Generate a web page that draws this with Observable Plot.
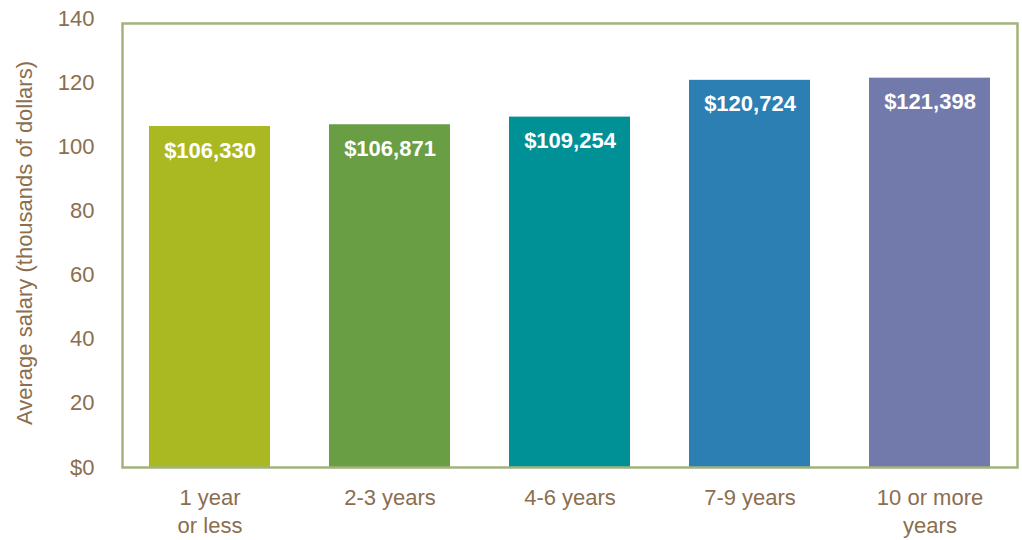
<!DOCTYPE html>
<html>
<head>
<meta charset="utf-8">
<script src="https://cdn.jsdelivr.net/npm/d3@7"></script>
<script src="https://cdn.jsdelivr.net/npm/@observablehq/plot@0.6"></script>
<style>
  html, body { margin: 0; padding: 0; background: #fff; }
  #chart { width: 1022px; height: 540px; }
</style>
</head>
<body>
<div id="chart"></div>
<script>
const categories = ["1 year or less", "2-3 years", "4-6 years", "7-9 years", "10 or more years"];
const tickLabels = ["1 year\nor less", "2-3 years", "4-6 years", "7-9 years", "10 or more\nyears"];
const salaries = [106330, 106871, 109254, 120724, 121398];
const yTicks = [0, 20, 40, 60, 80, 100, 120, 140];
const palette = ["#aab822", "#6a9e44", "#009196", "#2c7fb3", "#7279ab"];

const data = categories.map((c, i) => ({category: c, salary: salaries[i]}));
const textColor = "#8b6e50";
const font = "'Liberation Sans', Arial, Helvetica, sans-serif";
const money = d3.format("$,");

const chart = Plot.plot({
  width: 1022,
  height: 540,
  marginLeft: 122,
  marginRight: 5,
  marginTop: 18,
  marginBottom: 73,
  style: {fontFamily: font, fontSize: "22px", background: "#fff", overflow: "visible"},
  x: {domain: categories, paddingInner: 0.329, paddingOuter: 0.147},
  y: {domain: [0, 140]},
  color: {domain: categories, range: palette},
  marks: [
    Plot.barY(data, {x: "category", y: d => d.salary / 1000, fill: "category"}),
    Plot.text(data, {
      x: "category", y: d => d.salary / 1000, text: d => money(d.salary),
      dy: 24, fill: "white", fontWeight: "bold", fontSize: 22, fontFamily: font
    }),
    Plot.frame({stroke: "#a3b27c", strokeWidth: 2.5, insetTop: 5}),
    Plot.axisY({
      ticks: yTicks, tickSize: 0, tickPadding: 28,
      tickFormat: d => d === 0 ? "$0" : String(d),
      fontSize: 22, fill: textColor, color: textColor,
      label: "Average salary (thousands of dollars)", labelAnchor: "center",
      labelArrow: "none", labelOffset: 106
    }),
    Plot.axisX({
      tickSize: 0, tickPadding: 18,
      tickFormat: d => tickLabels[categories.indexOf(d)],
      fontSize: 22, fill: textColor, color: textColor, lineHeight: 1.27,
      label: null
    })
  ]
});
document.getElementById("chart").appendChild(chart);
</script>
</body>
</html>
